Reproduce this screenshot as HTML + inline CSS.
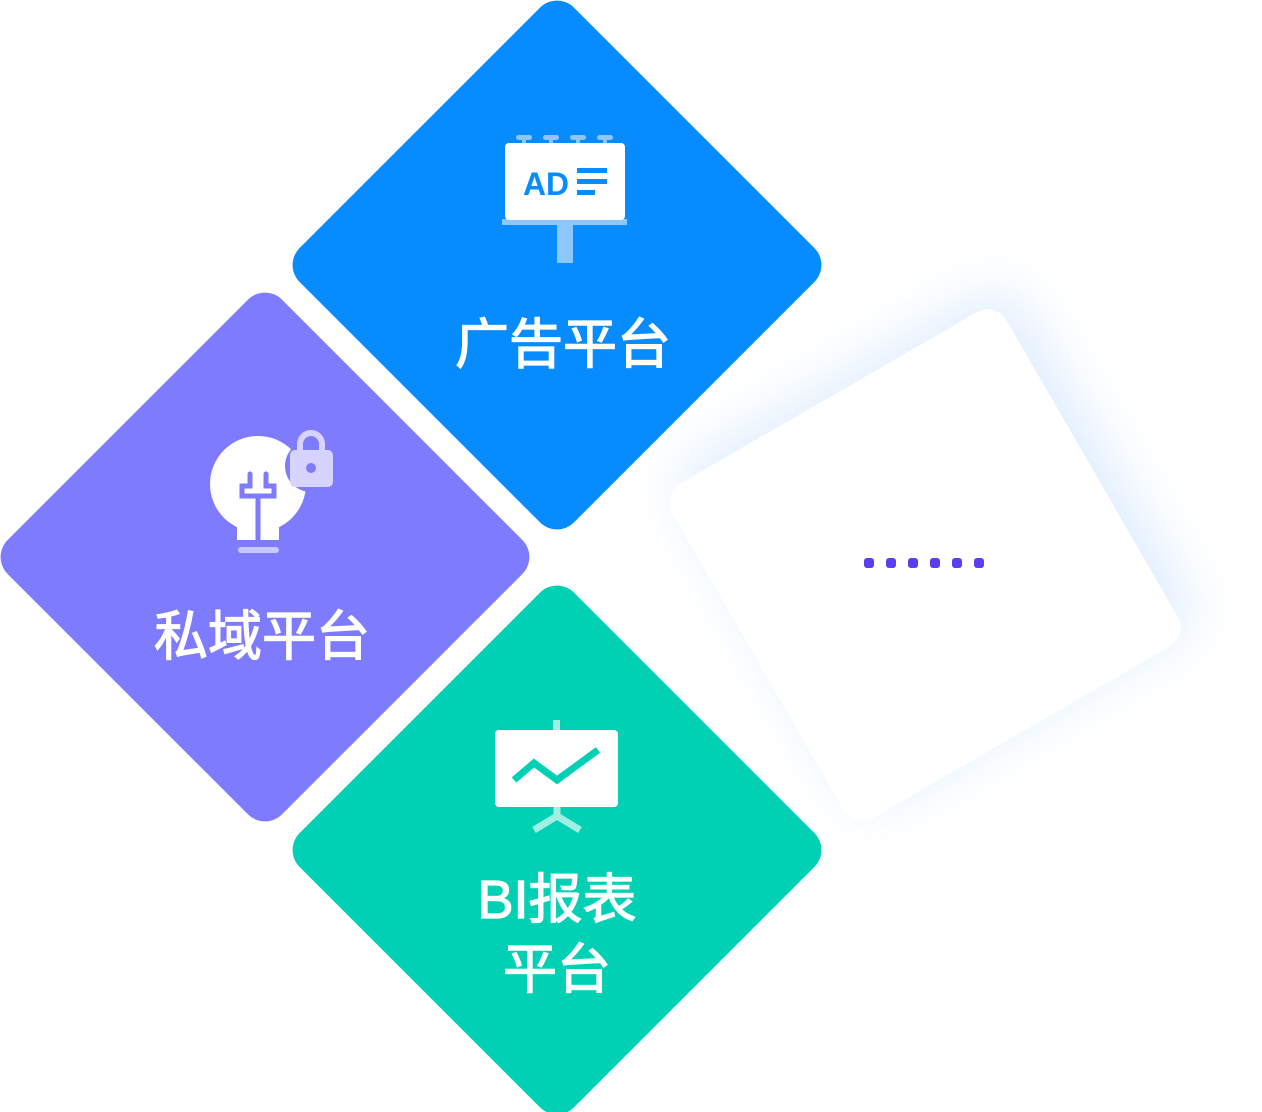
<!DOCTYPE html>
<html><head><meta charset="utf-8"><style>
html,body{margin:0;padding:0;background:#fff;width:1262px;height:1112px;overflow:hidden}
svg{display:block}
text{font-family:"Liberation Sans","Noto Sans CJK SC",sans-serif;fill:#fff;text-anchor:middle}
.t{font-weight:normal;stroke:#fff;stroke-width:1.3px}
</style></head><body>
<svg width="1262" height="1112" viewBox="0 0 1262 1112">
<defs>
<filter id="sh" x="-50%" y="-50%" width="200%" height="200%">
<feGaussianBlur stdDeviation="28"/>
</filter>
</defs>
<g transform="translate(925,565) rotate(-30)">
<rect x="-193" y="-193" width="386" height="386" rx="22" fill="#cfe4ff" opacity="0.7" filter="url(#sh)" transform="translate(18,-10)"/>
<rect x="-193" y="-193" width="386" height="386" rx="22" fill="#fff"/>
</g>
<g fill="#5b3cf0">
<rect x="864" y="558" width="10" height="10" rx="3"/><rect x="886" y="558" width="10" height="10" rx="3"/><rect x="908" y="558" width="10" height="10" rx="3"/>
<rect x="930" y="558" width="10" height="10" rx="3"/><rect x="952" y="558" width="10" height="10" rx="3"/><rect x="974" y="558" width="10" height="10" rx="3"/>
</g>
<rect x="-194" y="-194" width="388" height="388" rx="24" fill="#068cff" transform="translate(557,265) rotate(45)"/>
<rect x="-194" y="-194" width="388" height="388" rx="24" fill="#7f7bff" transform="translate(265,557) rotate(45)"/>
<rect x="-194" y="-194" width="388" height="388" rx="24" fill="#00d1b5" transform="translate(557,850) rotate(45)"/>
<g>
<g fill="#8cc8ff">
<rect x="516" y="135" width="16" height="5" rx="2.5"/><rect x="543" y="135" width="16" height="5" rx="2.5"/>
<rect x="570" y="135" width="16" height="5" rx="2.5"/><rect x="597" y="135" width="16" height="5" rx="2.5"/>
<rect x="522" y="139" width="4" height="6"/><rect x="549" y="139" width="4" height="6"/><rect x="576" y="139" width="4" height="6"/><rect x="603" y="139" width="4" height="6"/>
<rect x="502" y="219" width="125" height="6"/>
<rect x="557" y="225" width="16" height="38"/>
</g>
<rect x="505" y="143" width="120" height="77" rx="4" fill="#fff"/>
<text x="546" y="195" style="font-size:32px;fill:#068cff;font-weight:bold" textLength="46" lengthAdjust="spacingAndGlyphs">AD</text>
<g fill="#068cff"><rect x="577" y="168" width="30" height="5"/><rect x="577" y="179" width="30" height="5"/><rect x="577" y="190" width="18" height="5"/></g>
</g>
<text class="t" x="563" y="363" style="font-size:54px">广告平台</text>
<g>
<circle cx="258" cy="484" r="48" fill="#fff"/>
<rect x="237" y="500" width="42" height="40" fill="#fff"/>
<path d="M250 474 v12 h-8 v10 h16 v10 M266 474 v12 h8 v10 h-16 M258 506 v34" stroke="#7f7bff" stroke-width="5" fill="none" stroke-linecap="round"/>
<rect x="238" y="547" width="41" height="6" rx="3" fill="#c9c7ff"/>
<circle cx="311" cy="466" r="26" fill="#7f7bff"/>
<path d="M300 452 v-8 a11 11 0 0 1 22 0 v8" stroke="#d6d4ff" stroke-width="6" fill="none"/>
<rect x="290" y="450" width="43" height="37" rx="5" fill="#d6d4ff"/>
<circle cx="311" cy="468" r="5" fill="#7f7bff"/>
</g>
<text class="t" x="262" y="655" style="font-size:54px">私域平台</text>
<g>
<rect x="553" y="720" width="7" height="12" fill="#9ff0e0"/>
<path d="M557 806 v10 M557 816 l-23 14 M557 816 l23 14" stroke="#9ff0e0" stroke-width="7" fill="none"/>
<rect x="495" y="730" width="123" height="77" rx="4" fill="#fff"/>
<polyline points="514,780 534,763 557,780 598,750" stroke="#00d1b5" stroke-width="7" fill="none"/>
</g>
<text class="t" x="557" y="918" style="font-size:54px">BI报表</text>
<text class="t" x="557" y="988" style="font-size:54px">平台</text>
</svg>
</body></html>
